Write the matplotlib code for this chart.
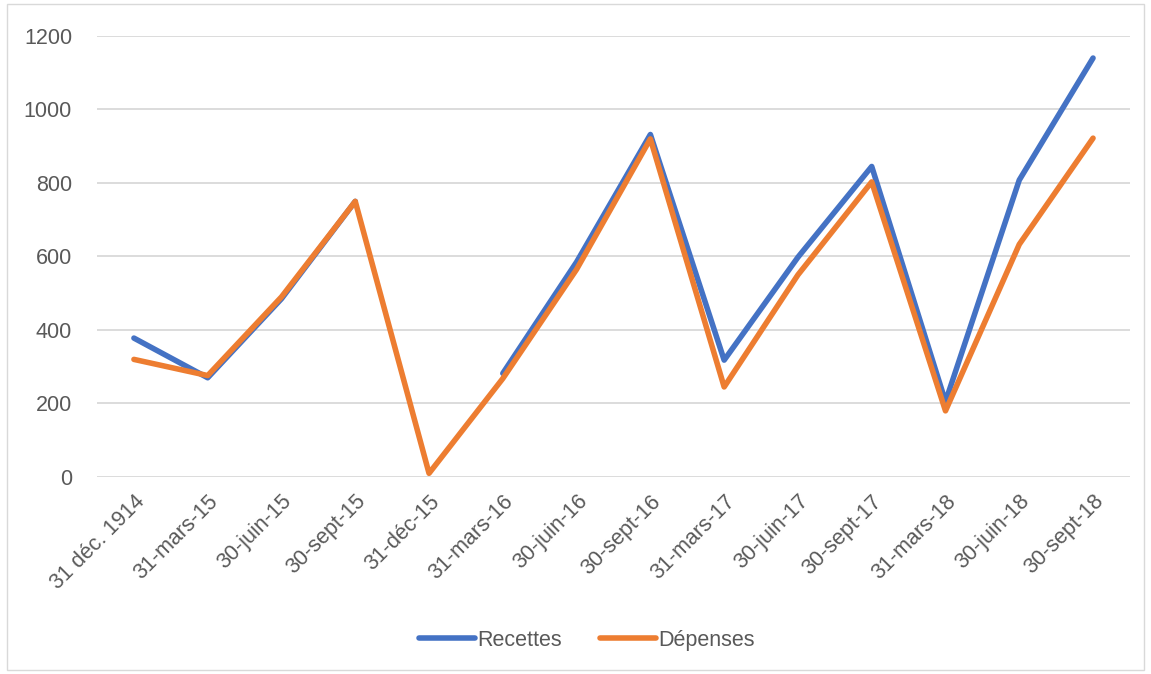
import numpy as np
import matplotlib.pyplot as plt
from matplotlib.patches import Rectangle

dates = ['31 déc. 1914', '31-mars-15', '30-juin-15', '30-sept-15', '31-déc-15',
         '31-mars-16', '30-juin-16', '30-sept-16', '31-mars-17', '30-juin-17',
         '30-sept-17', '31-mars-18', '30-juin-18', '30-sept-18']
recettes = [378, 270, 485, 750, np.nan, 282, 585, 932, 318, 598, 845, 205, 808, 1140]
depenses = [320, 276, 490, 750, 10, 268, 565, 920, 245, 550, 803, 180, 633, 922]

plt.rcParams['font.family'] = ['Liberation Sans', 'DejaVu Sans']

fig = plt.figure(figsize=(11.51, 6.74), dpi=100)
ax = fig.add_axes([0.0843, 0.2923, 0.8974, 0.6543])

x = np.arange(len(dates))
ax.plot(x, recettes, color='#4472c4', lw=4, solid_capstyle='round', solid_joinstyle='round', label='Recettes')
ax.plot(x, depenses, color='#ed7d31', lw=4, solid_capstyle='round', solid_joinstyle='round', label='Dépenses')

ax.set_xlim(-0.5, len(dates) - 0.5)
ax.set_ylim(0, 1200)
ax.set_yticks(range(0, 1201, 200))
ax.set_xticks(x)
ax.set_xticklabels(dates, rotation=45, ha='right', rotation_mode='anchor')
ax.tick_params(axis='both', length=0, colors='#595959', labelsize=15.5)
ax.tick_params(axis='x', pad=10)
ax.tick_params(axis='y', pad=18)
ax.grid(axis='y', color='#d9d9d9', lw=1.3)
ax.set_axisbelow(True)
for s in ax.spines.values():
    s.set_visible(False)

fig.legend(loc='center', bbox_to_anchor=(0.51, 0.05), ncol=2, frameon=False,
           fontsize=15.5, labelcolor='#595959', handlelength=2.6, columnspacing=1.8,
           handletextpad=0.1)

fig.patches.append(Rectangle((0.006, 0.006), 0.988, 0.988, transform=fig.transFigure,
                             fill=False, edgecolor='#d9d9d9', lw=1))

fig.savefig('out.png', dpi=100)
